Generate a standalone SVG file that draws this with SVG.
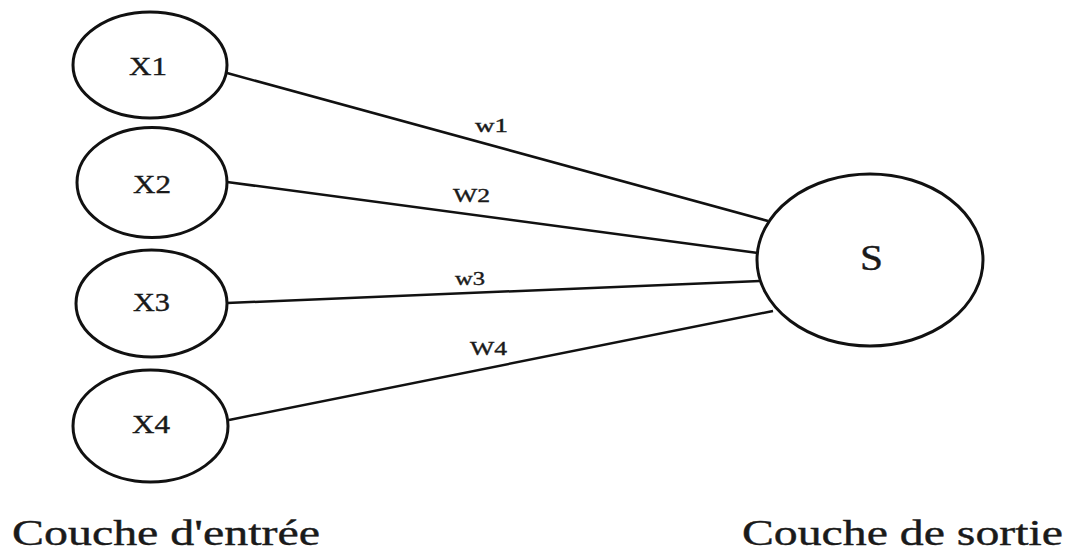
<svg xmlns="http://www.w3.org/2000/svg" width="1068" height="552" viewBox="0 0 1068 552">
<style>
.node{fill:#fff;stroke:#111;stroke-width:3}
.edge{stroke:#111;stroke-width:2.5;fill:none}
.t{font-family:"Liberation Serif","Times New Roman",serif;fill:#1a1a1a;stroke:#1a1a1a;stroke-width:0.4}
</style>
<rect width="1068" height="552" fill="#fff"/>
<g id="connectors">
<line class="edge" x1="227" y1="73" x2="768" y2="221"/>
<line class="edge" x1="227" y1="182" x2="758" y2="253"/>
<line class="edge" x1="227" y1="303" x2="760" y2="281"/>
<line class="edge" x1="229" y1="420" x2="773" y2="311"/>
<text class="t" x="475" y="132" font-size="19" textLength="33" lengthAdjust="spacingAndGlyphs">w1</text>
<text class="t" x="453" y="202" font-size="19" textLength="37" lengthAdjust="spacingAndGlyphs">W2</text>
<text class="t" x="455" y="285" font-size="19" textLength="30" lengthAdjust="spacingAndGlyphs">w3</text>
<text class="t" x="470" y="355" font-size="19" textLength="37" lengthAdjust="spacingAndGlyphs">W4</text>
</g>
<g id="x1"><ellipse class="node" cx="150" cy="65" rx="77" ry="53"/><text class="t" x="129" y="75" font-size="25" textLength="38" lengthAdjust="spacingAndGlyphs">X1</text></g>
<g id="x2"><ellipse class="node" cx="152" cy="182.5" rx="75" ry="55"/><text class="t" x="133" y="193" font-size="25" textLength="38" lengthAdjust="spacingAndGlyphs">X2</text></g>
<g id="x3"><ellipse class="node" cx="151.5" cy="303.5" rx="75.5" ry="53.5"/><text class="t" x="133" y="311" font-size="25" textLength="37" lengthAdjust="spacingAndGlyphs">X3</text></g>
<g id="x4"><ellipse class="node" cx="150.5" cy="426" rx="77.5" ry="56"/><text class="t" x="132" y="433" font-size="25" textLength="38" lengthAdjust="spacingAndGlyphs">X4</text></g>
<g id="s"><ellipse class="node" cx="870" cy="260" rx="113" ry="86"/><text class="t" x="860" y="270" font-size="36" textLength="23" lengthAdjust="spacingAndGlyphs">S</text></g>
<g id="labels">
<text class="t" x="12" y="545" font-size="36" textLength="308" lengthAdjust="spacingAndGlyphs">Couche d'entrée</text>
<text class="t" x="742" y="545" font-size="36" textLength="321" lengthAdjust="spacingAndGlyphs">Couche de sortie</text>
</g>
</svg>
